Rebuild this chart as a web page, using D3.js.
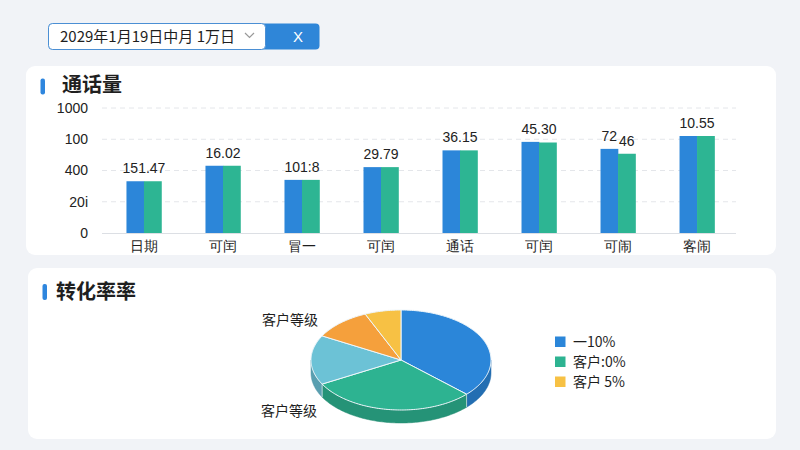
<!DOCTYPE html>
<html><head><meta charset="utf-8">
<script src="https://cdn.jsdelivr.net/npm/d3@7"></script>
<style>
html,body{margin:0;padding:0;background:#f1f3f7;}
svg{display:block;font-family:"Noto Sans CJK SC","Noto Sans",sans-serif;}
</style></head>
<body><svg id="c" width="800" height="450"></svg>
<script>
// ---- data ----
const dateText = "2029年1月19日中月 1万日";
const barTitle = "通话量";
const pieTitle = "转化率率";
const categories = ["日期","可闰","冒一","可闰","通话","可闰","可闹","客闹"];
const seriesBlue = [414, 538, 425, 527, 661, 729, 673, 776];
const seriesGreen = [414, 538, 425, 527, 661, 724, 634, 776];
const barLabels = [["151.47"],["16.02"],["101:8"],["29.79"],["36.15"],["45.30"],["72","46"],["10.55"]];
const yTickValues = [0, 250, 500, 750, 1000];
const yTickLabels = ["0","20i","400","100","1000"];
const pieValues = [37, 30, 16, 10.5, 6.5];
const pieColors = ["#2b86d9","#2db391","#6cc2d6","#f5a03c","#f7c144"];
const pieLabels = ["客户等级","客户等级"];
const legendLabels = ["一10%","客户:0%","客户 5%"];
const legendColors = ["#2b86d9","#2db391","#f7c144"];
const barColors = ["#2c86d9","#2db593"];

const svg = d3.select("#c");
const numFont = "Liberation Sans, Arial, sans-serif";

// ---- top select box ----
const sel = svg.append("g");
sel.append("rect").attr("x",48.5).attr("y",23.5).attr("width",271).attr("height",26).attr("rx",4)
  .attr("fill","#2f86d8");
sel.append("rect").attr("x",48.5).attr("y",23.5).attr("width",217).attr("height",26).attr("rx",4)
  .attr("fill","#fff").attr("stroke","#4b8fd4").attr("stroke-width",1);
sel.append("text").attr("x",60).attr("y",42).attr("font-size",15).attr("fill","#1e1e1e").text(dateText);
sel.append("path").attr("d","M245,33 L249.5,37.5 L254,33").attr("fill","none").attr("stroke","#999").attr("stroke-width",1.2);
sel.append("text").attr("x",298).attr("y",42).attr("font-size",15).attr("fill","#fff").attr("text-anchor","middle")
  .attr("font-family",numFont).text("X");

// ---- panels ----
svg.append("rect").attr("x",26).attr("y",66).attr("width",750).attr("height",189).attr("rx",9).attr("fill","#fff");
svg.append("rect").attr("x",28).attr("y",268).attr("width",748).attr("height",171).attr("rx",9).attr("fill","#fff");

function title(x, y, mx, my, t){
  svg.append("rect").attr("x",mx).attr("y",my).attr("width",4.5).attr("height",16).attr("rx",2).attr("fill","#2e86de");
  svg.append("text").attr("x",x).attr("y",y).attr("font-size",20).attr("font-weight",700).attr("fill","#1f1f1f").text(t);
}
title(62, 92, 40.5, 78.5, barTitle);
title(56, 299, 42.5, 284, pieTitle);

// ---- bar chart ----
const x0 = d3.scaleBand().domain(d3.range(categories.length)).range([104.5, 736.5]).paddingInner(0.557).paddingOuter(0.278);
const x1 = d3.scaleBand().domain([0,1]).range([0, x0.bandwidth()]);
const y = d3.scaleLinear().domain([0,1000]).range([233, 108]);

const grid = svg.append("g");
yTickValues.forEach((v,i)=>{
  if (v>0) grid.append("line").attr("x1",102).attr("x2",736).attr("y1",y(v)).attr("y2",y(v))
     .attr("stroke","#e4e6ea").attr("stroke-dasharray","5,4").attr("stroke-width",1);
});
grid.append("line").attr("x1",102).attr("x2",736).attr("y1",y(0)+0.5).attr("y2",y(0)+0.5).attr("stroke","#dcdfe4").attr("stroke-width",1.2);

const yAxis = d3.axisLeft(y).tickValues(yTickValues).tickFormat((d,i)=>yTickLabels[i]).tickSize(0).tickPadding(0);
const ya = svg.append("g").attr("transform","translate(88,0)").call(yAxis);
ya.select(".domain").remove();
ya.selectAll("text").attr("font-size",14).attr("fill","#222").attr("font-family",numFont);

const xAxis = d3.axisBottom(x0).tickFormat(i=>categories[i]).tickSize(0).tickPadding(8);
const xa = svg.append("g").attr("transform",`translate(0,${y(0)})`).call(xAxis);
xa.select(".domain").remove();
xa.selectAll("text").attr("font-size",14).attr("fill","#1e1e1e");

const groups = svg.append("g").selectAll("g").data(categories.map((c,i)=>i)).join("g")
  .attr("transform", i=>`translate(${x0(i)},0)`);
groups.selectAll("rect").data(i=>[seriesBlue[i], seriesGreen[i]]).join("rect")
  .attr("x",(d,k)=>x1(k)).attr("width",x1.bandwidth()+0.3)
  .attr("y",d=>y(d)).attr("height",d=>y(0)-y(d))
  .attr("fill",(d,k)=>barColors[k]);

groups.each(function(i){
  const g = d3.select(this);
  const labs = barLabels[i];
  if (labs.length===1){
    g.append("text").attr("x",x0.bandwidth()/2).attr("y",y(Math.max(seriesBlue[i],seriesGreen[i]))-8)
      .attr("text-anchor","middle").attr("font-size",14).attr("fill","#222")
      .attr("font-family",numFont).text(labs[0]);
  } else {
    [seriesBlue[i],seriesGreen[i]].forEach((v,k)=>{
      g.append("text").attr("x",x1(k)+x1.bandwidth()/2).attr("y",y(v)-8)
        .attr("text-anchor","middle").attr("font-size",14).attr("fill","#222")
        .attr("font-family",numFont).text(labs[k]);
    });
  }
});

// ---- 3D pie ----
const cx = 401, cy = 360, rx = 90, ry = 50, depth = 13;
const arcs = d3.pie().sort(null).startAngle(0).endAngle(2*Math.PI)(pieValues);
const P = (t, dy)=>[cx + rx*Math.sin(t), cy - ry*Math.cos(t) + dy];
function arcPts(a, b, dy){
  const n = Math.max(2, Math.ceil((b-a)/0.02));
  return d3.range(n+1).map(k=>P(a+(b-a)*k/n, dy));
}
const pg = svg.append("g");
// sides
arcs.forEach((d,i)=>{
  const s = Math.max(d.startAngle, Math.PI/2), e = Math.min(d.endAngle, 3*Math.PI/2);
  if (e > s){
    const pts = arcPts(s,e,0).concat(arcPts(s,e,depth).reverse());
    pg.append("path").attr("d", d3.line()(pts)+"Z")
      .attr("fill", d3.color(pieColors[i]).darker(0.55)).attr("stroke", d3.color(pieColors[i]).darker(0.7)).attr("stroke-width",0.5);
  }
});
arcs.forEach((d)=>{
  const t = d.startAngle;
  if (t > Math.PI/2 && t < 3*Math.PI/2){
    const a = P(t,0), b = P(t,depth);
    pg.append("line").attr("x1",a[0]).attr("y1",a[1]).attr("x2",b[0]).attr("y2",b[1]).attr("stroke","rgba(255,255,255,0.6)").attr("stroke-width",1);
  }
});
// tops
arcs.forEach((d,i)=>{
  const pts = [[cx,cy]].concat(arcPts(d.startAngle, d.endAngle, 0));
  pg.append("path").attr("d", d3.line()(pts)+"Z").attr("fill", pieColors[i])
    .attr("stroke","#eef6fb").attr("stroke-width",1).attr("stroke-linejoin","round");
});

svg.append("text").attr("x",318).attr("y",325).attr("text-anchor","end").attr("font-size",14).attr("fill","#1e1e1e").text(pieLabels[0]);
svg.append("text").attr("x",317).attr("y",416).attr("text-anchor","end").attr("font-size",14).attr("fill","#1e1e1e").text(pieLabels[1]);

// legend
const lg = svg.append("g");
legendLabels.forEach((t,i)=>{
  lg.append("rect").attr("x",555).attr("y",336.5+i*20).attr("width",10.5).attr("height",10.5).attr("fill",legendColors[i]);
  lg.append("text").attr("x",573).attr("y",347+i*20).attr("font-size",14).attr("fill","#1e1e1e").text(t);
});
</script></body></html>
